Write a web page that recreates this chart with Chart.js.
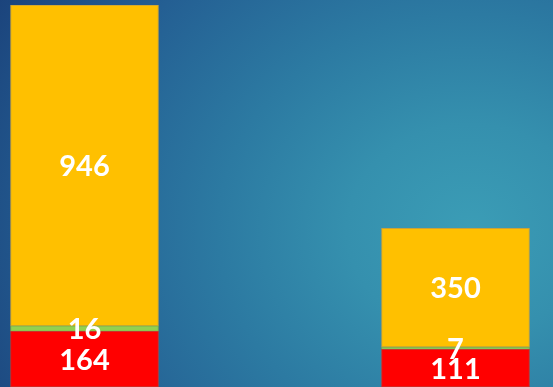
<!DOCTYPE html>
<html lang="en">

<head>
    <meta charset="UTF-8">
    <meta name="viewport" content="width=device-width, initial-scale=1.0">
    <script src="https://cdn.jsdelivr.net/npm/chart.js"></script>
    <title>Grupos</title>
    <style>
        html, body {
            margin: 0;
            padding: 0;
            width: 553px;
            height: 387px;
            overflow: hidden;
        }

        body {
            position: relative;
            background: radial-gradient(ellipse 560px 480px at 470px 230px, #3b9db6 0%, #3590ae 22%, #2c7aa2 45%, #245f93 72%, #1a4079 100%);
        }

        .area-grafico {
            position: absolute;
            left: -101px;
            top: 0;
            width: 742px;
            height: 387px;
        }
    </style>
</head>

<body>
    <div class="area-grafico">
        <canvas id="grafico"></canvas>
    </div>
</body>

</html>

<script>
    var categorias = ['A', 'B']
    var vermelho = [164, 111]
    var verde = [16, 7]
    var amarelo = [946, 350]

    // total da pilha mais alta vira o topo do eixo
    var topo = Math.max.apply(null, categorias.map(function (c, i) {
        return vermelho[i] + verde[i] + amarelo[i]
    }))

    // escreve o valor no meio de cada bloco
    var rotulos = {
        id: 'rotulos',
        afterDatasetsDraw: function (chart) {
            var ctx = chart.ctx
            ctx.save()
            ctx.fillStyle = '#ffffff'
            ctx.font = 'bold 29px Lato'
            ctx.textAlign = 'center'
            ctx.textBaseline = 'middle'
            chart.data.datasets.forEach(function (ds, d) {
                chart.getDatasetMeta(d).data.forEach(function (bar, i) {
                    var meio = (bar.y + bar.base) / 2
                    ctx.fillText(ds.data[i], bar.x, meio + 1)
                })
            })
            ctx.restore()
        }
    }

    const config = {
        type: 'bar',
        data: {
            labels: categorias,
            datasets: [
                { data: vermelho, backgroundColor: '#ff0000', borderColor: '#c8342c', borderWidth: 1 },
                { data: verde, backgroundColor: '#92d050', borderColor: '#7fae4c', borderWidth: 1 },
                { data: amarelo, backgroundColor: '#ffc000', borderColor: '#c9a23a', borderWidth: 1 }
            ]
        },
        options: {
            responsive: true,
            maintainAspectRatio: false,
            animation: false,
            layout: { padding: { top: 5, left: 0, right: 0, bottom: 0 } },
            plugins: {
                legend: { display: false },
                tooltip: { enabled: false }
            },
            scales: {
                x: {
                    stacked: true,
                    display: false,
                    barThickness: 148
                },
                y: {
                    stacked: true,
                    display: false,
                    min: 0,
                    max: topo
                }
            },
            datasets: {
                bar: { barThickness: 148, borderSkipped: false }
            }
        },
        plugins: [rotulos]
    };

    const myChart = new Chart(document.getElementById('grafico'), config);
</script>
